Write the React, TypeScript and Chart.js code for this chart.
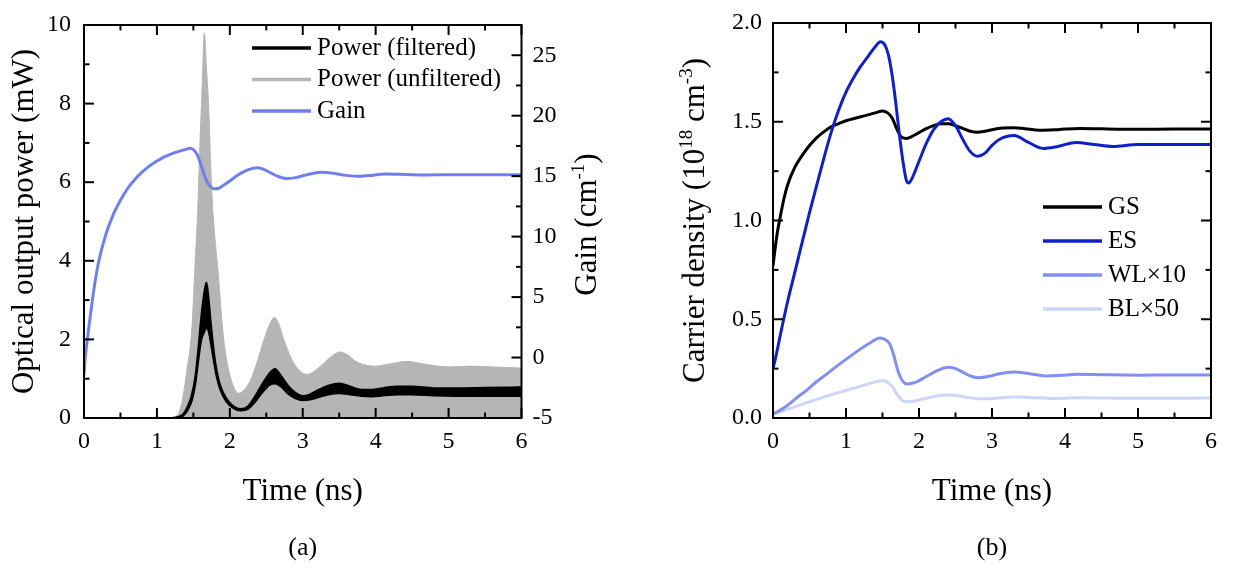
import React, { useEffect, useRef } from 'react';
import { Chart, registerables } from 'chart.js';

Chart.register(...registerables);

const FONT = "'Liberation Serif', 'Times New Roman', serif";
Chart.defaults.font.family = FONT;
Chart.defaults.font.size = 24;
Chart.defaults.color = '#000000';

// ---------- ticks ----------
const timeTicks = [0, 1, 2, 3, 4, 5, 6];
const timeMinor = [0.5, 1.5, 2.5, 3.5, 4.5, 5.5];
const powerTicks = [0, 2, 4, 6, 8, 10];
const powerMinor = [1, 3, 5, 7, 9];
const gainTicks = [-5, 0, 5, 10, 15, 20, 25];
const gainMinor = [-2.5, 2.5, 7.5, 12.5, 17.5, 22.5];
const densityTicks = [0, 0.5, 1, 1.5, 2];
const densityMinor = [0.25, 0.75, 1.25, 1.75];

// ---------- panel (a) ----------
const gainTime = [0, 0.02, 0.05, 0.1, 0.15, 0.2, 0.3, 0.4, 0.5, 0.6, 0.7, 0.8, 0.9, 1.0, 1.1, 1.2, 1.3, 1.4, 1.45, 1.5, 1.55, 1.6, 1.65, 1.7, 1.75, 1.8, 1.85, 1.9, 2.0, 2.1, 2.2, 2.3, 2.37, 2.45, 2.55, 2.65, 2.78, 2.9, 3.0, 3.1, 3.27, 3.4, 3.55, 3.73, 3.9, 4.13, 4.4, 4.7, 5.0, 5.5, 6.0];
const gainValues = [-1.4, 0.2, 1.7, 4.1, 6.2, 7.9, 10.2, 11.8, 13.0, 14.0, 14.75, 15.35, 15.85, 16.25, 16.6, 16.85, 17.05, 17.22, 17.3, 17.2, 16.8, 16.0, 15.1, 14.4, 14.05, 13.95, 14.0, 14.2, 14.6, 15.05, 15.4, 15.62, 15.7, 15.6, 15.3, 15.0, 14.8, 14.88, 15.03, 15.18, 15.32, 15.25, 15.1, 15.0, 15.05, 15.17, 15.14, 15.1, 15.12, 15.12, 15.12];

const unfTime = [0, 1.2, 1.27, 1.34, 1.41, 1.48, 1.52, 1.56, 1.59, 1.62, 1.65, 1.68, 1.71, 1.74, 1.77, 1.84, 1.91, 2.0, 2.12, 2.2, 2.28, 2.37, 2.46, 2.55, 2.61, 2.67, 2.73, 2.8, 2.87, 2.96, 3.05, 3.15, 3.28, 3.4, 3.51, 3.62, 3.72, 3.83, 4.0, 4.2, 4.43, 4.7, 5.0, 5.3, 5.6, 6.0];
const unfPower = [0, 0, 0.05, 0.37, 1.2, 2.3, 3.8, 5.3, 7.0, 8.4, 9.8, 8.9, 7.9, 6.3, 5.2, 3.7, 2.1, 1.1, 0.63, 0.72, 0.95, 1.4, 1.95, 2.4, 2.56, 2.4, 2.05, 1.7, 1.42, 1.2, 1.11, 1.18, 1.38, 1.58, 1.68, 1.6, 1.45, 1.36, 1.32, 1.38, 1.44, 1.36, 1.3, 1.32, 1.3, 1.27];

const filtTime = [0, 1.2, 1.3, 1.36, 1.42, 1.48, 1.53, 1.57, 1.61, 1.65, 1.68, 1.71, 1.74, 1.78, 1.82, 1.87, 1.95, 2.05, 2.15, 2.25, 2.35, 2.45, 2.55, 2.62, 2.7, 2.8, 2.9, 3.0, 3.1, 3.2, 3.35, 3.5, 3.65, 3.8, 3.95, 4.1, 4.3, 4.5, 4.8, 5.1, 5.5, 6.0];
const filtLower = [0, 0, 0.02, 0.06, 0.2, 0.45, 0.9, 1.5, 2.0, 2.2, 2.3, 2.2, 1.9, 1.45, 1.05, 0.72, 0.42, 0.25, 0.19, 0.23, 0.42, 0.66, 0.85, 0.88, 0.8, 0.62, 0.5, 0.45, 0.47, 0.52, 0.6, 0.63, 0.6, 0.56, 0.55, 0.57, 0.6, 0.6, 0.57, 0.56, 0.56, 0.56];
const filtUpper = [0, 0, 0.03, 0.1, 0.28, 0.6, 1.1, 1.8, 2.6, 3.2, 3.45, 3.0, 2.4, 1.7, 1.2, 0.82, 0.5, 0.3, 0.23, 0.3, 0.56, 0.88, 1.15, 1.25, 1.08, 0.82, 0.64, 0.56, 0.6, 0.7, 0.82, 0.88, 0.8, 0.72, 0.72, 0.76, 0.8, 0.8, 0.76, 0.76, 0.77, 0.78];

// ---------- panel (b) ----------
const gsTime = [0, 0.03, 0.06, 0.1, 0.15, 0.2, 0.3, 0.4, 0.5, 0.6, 0.7, 0.8, 0.9, 1.0, 1.1, 1.2, 1.3, 1.4, 1.5, 1.57, 1.63, 1.7, 1.75, 1.82, 1.9, 2.0, 2.1, 2.2, 2.3, 2.4, 2.5, 2.6, 2.7, 2.8, 2.9, 3.0, 3.15, 3.3, 3.45, 3.65, 3.9, 4.2, 4.5, 5.0, 5.5, 6.0];
const gsValues = [0.77, 0.86, 0.94, 1.02, 1.11, 1.18, 1.27, 1.33, 1.38, 1.42, 1.45, 1.475, 1.49, 1.505, 1.515, 1.525, 1.535, 1.545, 1.555, 1.545, 1.52, 1.46, 1.425, 1.415, 1.425, 1.445, 1.465, 1.48, 1.49, 1.49, 1.48, 1.466, 1.452, 1.447, 1.452, 1.46, 1.468, 1.47, 1.465, 1.457, 1.46, 1.466, 1.464, 1.462, 1.463, 1.463];

const esTime = [0, 0.05, 0.1, 0.2, 0.3, 0.4, 0.5, 0.6, 0.7, 0.8, 0.9, 1.0, 1.1, 1.2, 1.3, 1.4, 1.47, 1.53, 1.58, 1.63, 1.68, 1.73, 1.78, 1.83, 1.86, 1.9, 2.0, 2.1, 2.2, 2.3, 2.4, 2.5, 2.6, 2.7, 2.8, 2.9, 3.0, 3.1, 3.3, 3.5, 3.7, 3.9, 4.15, 4.4, 4.65, 5.0, 5.5, 6.0];
const esValues = [0.25, 0.33, 0.42, 0.59, 0.74, 0.89, 1.04, 1.18, 1.32, 1.45, 1.56, 1.65, 1.72, 1.78, 1.83, 1.88, 1.905, 1.89, 1.84, 1.74, 1.6, 1.44, 1.3, 1.2, 1.19, 1.21, 1.3, 1.39, 1.46, 1.5, 1.515, 1.48, 1.41, 1.35, 1.325, 1.34, 1.38, 1.41, 1.43, 1.395, 1.365, 1.375, 1.395, 1.385, 1.375, 1.385, 1.385, 1.385];

const wlTime = [0, 0.1, 0.23, 0.35, 0.46, 0.6, 0.735, 0.9, 1.05, 1.2, 1.35, 1.46, 1.52, 1.6, 1.66, 1.71, 1.77, 1.84, 1.95, 2.1, 2.25, 2.4, 2.5, 2.62, 2.72, 2.82, 2.95, 3.1, 3.3, 3.5, 3.73, 4.0, 4.16, 4.5, 5.0, 5.5, 6.0];
const wlValues = [0.02, 0.04, 0.073, 0.11, 0.14, 0.185, 0.222, 0.27, 0.31, 0.35, 0.385, 0.405, 0.4, 0.375, 0.31, 0.24, 0.19, 0.172, 0.18, 0.21, 0.24, 0.257, 0.25, 0.228, 0.21, 0.204, 0.21, 0.224, 0.233, 0.225, 0.213, 0.217, 0.221, 0.219, 0.217, 0.218, 0.218];

const blTime = [0, 0.23, 0.46, 0.69, 0.92, 1.15, 1.3, 1.42, 1.49, 1.56, 1.63, 1.7, 1.76, 1.84, 1.95, 2.1, 2.25, 2.4, 2.55, 2.7, 2.82, 3.0, 3.3, 3.6, 3.8, 4.2, 4.6, 5.0, 6.0];
const blValues = [0.02, 0.048, 0.078, 0.106, 0.131, 0.155, 0.172, 0.185, 0.188, 0.183, 0.16, 0.12, 0.092, 0.082, 0.087, 0.1, 0.112, 0.117, 0.112, 0.102, 0.097, 0.099, 0.106, 0.102, 0.099, 0.102, 0.101, 0.1, 0.101];

// ---------- styles ----------
const BLACK = '#000000';
const GREY = '#b5b5b5';
const GAIN_BLUE = '#6f80ee';
const ES_BLUE = '#1020c8';
const WL_BLUE = '#8190f0';
const BL_BLUE = '#cdd5fa';
const MAJOR = 10;
const MINOR = 5.5;

const pts = (xs: number[], ys: number[]) => xs.map((x, i) => ({ x, y: ys[i] }));

type Run = { t: string; sup?: boolean };
type TextItem = { runs: Run[]; x: number | 'center'; y: number | 'middle'; rot: number; size: number; dy?: number };
type LegendCfg = { x1: number; x2: number; tx: number; y0: number; dy: number; size: number; lw: number; items: { label: string; color: string }[] };
type OverlayCfg = {
  xMajor: number[]; xMinor: number[];
  left: { id: string; major: number[]; minor: number[] };
  right: { id: string; major: number[]; minor: number[] };
  legend: LegendCfg;
  texts: TextItem[];
};

function makeOverlay(cfg: OverlayCfg) {
  return {
    id: 'overlay',
    afterDraw(chart: any) {
      const { ctx, chartArea: a } = chart;
      ctx.save();
      ctx.strokeStyle = BLACK;
      ctx.lineWidth = 2;
      ctx.strokeRect(a.left, a.top, a.right - a.left, a.bottom - a.top);
      const seg = (x1: number, y1: number, x2: number, y2: number) => {
        ctx.beginPath(); ctx.moveTo(x1, y1); ctx.lineTo(x2, y2); ctx.stroke();
      };
      const xs = chart.scales.x;
      const xTick = (vals: number[], len: number) => vals.forEach((v) => {
        const p = xs.getPixelForValue(v);
        seg(p, a.bottom, p, a.bottom - len);
        seg(p, a.top, p, a.top + len);
      });
      xTick(cfg.xMajor, MAJOR); xTick(cfg.xMinor, MINOR);
      const yTick = (id: string, vals: number[], len: number, side: string) => {
        const s = chart.scales[id];
        vals.forEach((v) => {
          const p = s.getPixelForValue(v);
          if (side === 'left') seg(a.left, p, a.left + len, p); else seg(a.right, p, a.right - len, p);
        });
      };
      yTick(cfg.left.id, cfg.left.major, MAJOR, 'left');
      yTick(cfg.left.id, cfg.left.minor, MINOR, 'left');
      yTick(cfg.right.id, cfg.right.major, MAJOR, 'right');
      yTick(cfg.right.id, cfg.right.minor, MINOR, 'right');

      // legend
      const L = cfg.legend;
      ctx.font = `${L.size}px ${FONT}`;
      ctx.textBaseline = 'middle';
      ctx.textAlign = 'left';
      L.items.forEach((it, i) => {
        const y = L.y0 + i * L.dy;
        ctx.strokeStyle = it.color;
        ctx.lineWidth = L.lw;
        seg(L.x1, y, L.x2, y);
        ctx.fillStyle = BLACK;
        ctx.fillText(it.label, L.tx, y);
      });

      // texts
      ctx.textBaseline = 'alphabetic';
      ctx.fillStyle = BLACK;
      cfg.texts.forEach((tx) => {
        const supSize = Math.round(tx.size * 0.62);
        const rise = tx.size * 0.4;
        const x = tx.x === 'center' ? (a.left + a.right) / 2 : tx.x;
        const y = (tx.y === 'middle' ? (a.top + a.bottom) / 2 : tx.y) + (tx.dy || 0);
        ctx.save();
        ctx.translate(x, y);
        ctx.rotate(tx.rot);
        const widths = tx.runs.map((r) => {
          ctx.font = `${r.sup ? supSize : tx.size}px ${FONT}`;
          return ctx.measureText(r.t).width;
        });
        const total = widths.reduce((s, w) => s + w, 0);
        let cx = -total / 2;
        tx.runs.forEach((r, i) => {
          ctx.font = `${r.sup ? supSize : tx.size}px ${FONT}`;
          ctx.fillText(r.t, cx, r.sup ? -rise : 0);
          cx += widths[i];
        });
        ctx.restore();
      });
      ctx.restore();
    },
  };
}

const tickFont = { family: FONT, size: 24, lineHeight: 1, style: 'normal', weight: 'normal' };
const baseAxis = (extra: any) => ({
  type: 'linear',
  grid: { display: false, drawTicks: false, tickLength: 0 },
  border: { display: false },
  ...extra,
});
const setTicks = (vals: number[]) => (s: any) => { s.ticks = vals.map((v) => ({ value: v })); };

function configA(): any {
  const overlay = makeOverlay({
    xMajor: timeTicks, xMinor: timeMinor,
    left: { id: 'y', major: powerTicks, minor: powerMinor },
    right: { id: 'y2', major: gainTicks, minor: gainMinor },
    legend: {
      x1: 252, x2: 311, tx: 317, y0: 48, dy: 31.5, size: 25, lw: 3.5,
      items: [
        { label: 'Power (filtered)', color: BLACK },
        { label: 'Power (unfiltered)', color: GREY },
        { label: 'Gain', color: GAIN_BLUE },
      ],
    },
    texts: [
      { runs: [{ t: 'Optical output power (mW)' }], x: 33, y: 'middle', rot: -Math.PI / 2, size: 31 },
      { runs: [{ t: 'Gain (cm' }, { t: '-1', sup: true }, { t: ')' }], x: 596, y: 'middle', dy: 3, rot: -Math.PI / 2, size: 31 },
      { runs: [{ t: 'Time (ns)' }], x: 'center', y: 500, rot: 0, size: 31 },
      { runs: [{ t: '(a)' }], x: 'center', y: 555, rot: 0, size: 26 },
    ],
  });
  return {
    type: 'line',
    data: {
      datasets: [
        { label: 'Power (unfiltered)', data: pts(unfTime, unfPower), yAxisID: 'y', borderColor: GREY, backgroundColor: GREY, borderWidth: 1, fill: 'origin', pointRadius: 0, cubicInterpolationMode: 'monotone', order: 3 },
        { label: 'Power (filtered) lower', data: pts(filtTime, filtLower), yAxisID: 'y', borderColor: BLACK, borderWidth: 2, fill: false, pointRadius: 0, cubicInterpolationMode: 'monotone', order: 2 },
        { label: 'Power (filtered)', data: pts(filtTime, filtUpper), yAxisID: 'y', borderColor: BLACK, backgroundColor: BLACK, borderWidth: 2, fill: '-1', pointRadius: 0, cubicInterpolationMode: 'monotone', order: 1 },
        { label: 'Gain', data: pts(gainTime, gainValues), yAxisID: 'y2', borderColor: GAIN_BLUE, borderWidth: 3, fill: false, pointRadius: 0, cubicInterpolationMode: 'monotone', order: 0 },
      ],
    },
    options: {
      animation: false,
      responsive: false,
      events: [],
      layout: { padding: { top: 15, left: 0, right: 0, bottom: 0 } },
      plugins: { legend: { display: false }, tooltip: { enabled: false } },
      scales: {
        x: baseAxis({ position: 'bottom', min: 0, max: 6, ticks: { font: tickFont, color: BLACK, padding: 12, maxRotation: 0, autoSkip: false }, afterBuildTicks: setTicks(timeTicks), afterFit: (s: any) => { s.height = 152; } }),
        y: baseAxis({ position: 'left', min: 0, max: 10, ticks: { font: tickFont, color: BLACK, padding: 13, autoSkip: false }, afterBuildTicks: setTicks(powerTicks), afterFit: (s: any) => { s.width = 84; } }),
        y2: baseAxis({ position: 'right', min: -5, max: 27.5, ticks: { font: tickFont, color: BLACK, padding: 11, autoSkip: false }, afterBuildTicks: setTicks(gainTicks), afterFit: (s: any) => { s.width = 96.5; } }),
      },
    },
    plugins: [overlay],
  };
}

function configB(): any {
  const overlay = makeOverlay({
    xMajor: timeTicks, xMinor: timeMinor,
    left: { id: 'y', major: densityTicks, minor: densityMinor },
    right: { id: 'y', major: densityTicks, minor: densityMinor },
    legend: {
      x1: 425, x2: 484, tx: 490, y0: 207, dy: 34, size: 25, lw: 3.5,
      items: [
        { label: 'GS', color: BLACK },
        { label: 'ES', color: ES_BLUE },
        { label: 'WL×10', color: WL_BLUE },
        { label: 'BL×50', color: BL_BLUE },
      ],
    },
    texts: [
      { runs: [{ t: 'Carrier density (10' }, { t: '18', sup: true }, { t: ' cm' }, { t: '-3', sup: true }, { t: ')' }], x: 86, y: 'middle', rot: -Math.PI / 2, size: 31 },
      { runs: [{ t: 'Time (ns)' }], x: 'center', y: 500, rot: 0, size: 31 },
      { runs: [{ t: '(b)' }], x: 'center', y: 555, rot: 0, size: 26 },
    ],
  });
  const line = (label: string, xs: number[], ys: number[], color: string, order: number) => ({
    label, data: pts(xs, ys), yAxisID: 'y', borderColor: color, borderWidth: 3, fill: false, pointRadius: 0, cubicInterpolationMode: 'monotone', order,
  });
  return {
    type: 'line',
    data: {
      datasets: [
        line('GS', gsTime, gsValues, BLACK, 1),
        line('ES', esTime, esValues, ES_BLUE, 0),
        line('WL×10', wlTime, wlValues, WL_BLUE, 2),
        line('BL×50', blTime, blValues, BL_BLUE, 3),
      ],
    },
    options: {
      animation: false,
      responsive: false,
      events: [],
      layout: { padding: { top: 15, left: 0, right: 25, bottom: 0 } },
      plugins: { legend: { display: false }, tooltip: { enabled: false } },
      scales: {
        x: baseAxis({ position: 'bottom', min: 0, max: 6, ticks: { font: tickFont, color: BLACK, padding: 12, maxRotation: 0, autoSkip: false }, afterBuildTicks: setTicks(timeTicks), afterFit: (s: any) => { s.height = 152; } }),
        y: baseAxis({ position: 'left', min: 0, max: 2, ticks: { font: tickFont, color: BLACK, padding: 11, autoSkip: false, callback: (v: any) => Number(v).toFixed(1) }, afterBuildTicks: setTicks(densityTicks), afterFit: (s: any) => { s.width = 155; } }),
      },
    },
    plugins: [overlay],
  };
}

export default function App() {
  const refA = useRef<HTMLCanvasElement>(null);
  const refB = useRef<HTMLCanvasElement>(null);
  useEffect(() => {
    const a = new Chart(refA.current as HTMLCanvasElement, configA());
    const b = new Chart(refB.current as HTMLCanvasElement, configB());
    return () => { a.destroy(); b.destroy(); };
  }, []);
  return (
    <div style={{ position: 'absolute', left: 0, top: 0, width: 1236, height: 570, background: '#ffffff' }}>
      <canvas ref={refA} width={618} height={570} style={{ position: 'absolute', left: 0, top: 0, width: 618, height: 570 }} />
      <canvas ref={refB} width={618} height={570} style={{ position: 'absolute', left: 618, top: 0, width: 618, height: 570 }} />
    </div>
  );
}
